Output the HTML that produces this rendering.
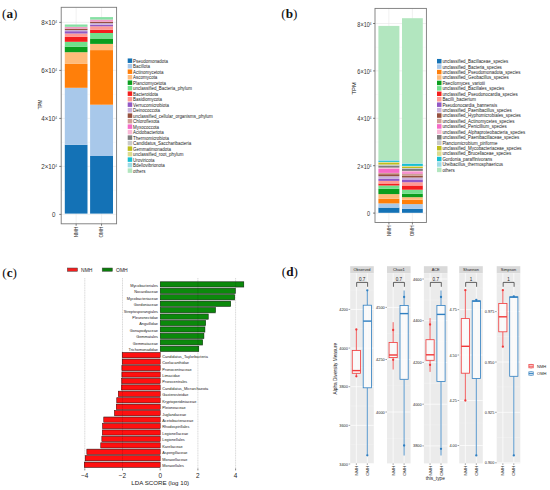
<!DOCTYPE html>
<html><head><meta charset="utf-8"><style>
html,body{margin:0;padding:0;background:#fff;width:550px;height:490px;overflow:hidden}
svg{display:block;font-family:'Liberation Sans',sans-serif}
</style></head><body>
<svg width="550" height="490" viewBox="0 0 550 490" font-family="Liberation Sans, sans-serif">
<text x="2.1" y="17.6" style="font-family:'Liberation Serif',serif;font-weight:bold" font-size="13.2" fill="#111"><tspan style="font-weight:normal">(</tspan>a<tspan style="font-weight:normal">)</tspan></text>
<text x="281.3" y="17.6" style="font-family:'Liberation Serif',serif;font-weight:bold" font-size="13.2" fill="#111"><tspan style="font-weight:normal">(</tspan>b<tspan style="font-weight:normal">)</tspan></text>
<text x="2.3" y="276.5" style="font-family:'Liberation Serif',serif;font-weight:bold" font-size="13.2" fill="#111"><tspan style="font-weight:normal">(</tspan>c<tspan style="font-weight:normal">)</tspan></text>
<text x="281.8" y="276.1" style="font-family:'Liberation Serif',serif;font-weight:bold" font-size="13.2" fill="#111"><tspan style="font-weight:normal">(</tspan>d<tspan style="font-weight:normal">)</tspan></text>
<rect x="61.20" y="7.30" width="55.40" height="216.50" fill="#ffffff" />
<line x1="61.2" x2="116.6" y1="46.40" y2="46.40" stroke="#f2f2f2" stroke-width="0.4"/>
<line x1="61.2" x2="116.6" y1="94.40" y2="94.40" stroke="#f2f2f2" stroke-width="0.4"/>
<line x1="61.2" x2="116.6" y1="142.40" y2="142.40" stroke="#f2f2f2" stroke-width="0.4"/>
<line x1="61.2" x2="116.6" y1="190.40" y2="190.40" stroke="#f2f2f2" stroke-width="0.4"/>
<line x1="61.2" x2="116.6" y1="22.40" y2="22.40" stroke="#e6e6e6" stroke-width="0.6"/>
<line x1="61.2" x2="116.6" y1="70.40" y2="70.40" stroke="#e6e6e6" stroke-width="0.6"/>
<line x1="61.2" x2="116.6" y1="118.40" y2="118.40" stroke="#e6e6e6" stroke-width="0.6"/>
<line x1="61.2" x2="116.6" y1="166.40" y2="166.40" stroke="#e6e6e6" stroke-width="0.6"/>
<line x1="61.2" x2="116.6" y1="214.40" y2="214.40" stroke="#e6e6e6" stroke-width="0.6"/>
<line x1="76.15" x2="76.15" y1="7.3" y2="223.8" stroke="#e6e6e6" stroke-width="0.6"/>
<line x1="101.55" x2="101.55" y1="7.3" y2="223.8" stroke="#e6e6e6" stroke-width="0.6"/>
<rect x="64.80" y="144.80" width="22.70" height="68.80" fill="#1472b6" />
<rect x="64.80" y="87.80" width="22.70" height="57.00" fill="#a8c8ea" />
<rect x="64.80" y="63.90" width="22.70" height="23.90" fill="#ff7f0a" />
<rect x="64.80" y="52.20" width="22.70" height="11.70" fill="#ffbb7a" />
<rect x="64.80" y="46.70" width="22.70" height="5.50" fill="#0a9e1e" />
<rect x="64.80" y="41.80" width="22.70" height="4.90" fill="#70e08c" />
<rect x="64.80" y="36.90" width="22.70" height="4.90" fill="#f41e1e" />
<rect x="64.80" y="33.50" width="22.70" height="3.40" fill="#ff9a94" />
<rect x="64.80" y="31.20" width="22.70" height="2.30" fill="#9258c4" />
<rect x="64.80" y="30.10" width="22.70" height="1.10" fill="#c9b2dc" />
<rect x="64.80" y="28.70" width="22.70" height="1.40" fill="#95503f" />
<rect x="64.80" y="26.80" width="22.70" height="1.90" fill="#f39bc6" />
<rect x="64.80" y="24.50" width="22.70" height="2.30" fill="#86e0a4" />
<rect x="90.10" y="156.00" width="22.90" height="57.60" fill="#1472b6" />
<rect x="90.10" y="104.70" width="22.90" height="51.30" fill="#a8c8ea" />
<rect x="90.10" y="50.10" width="22.90" height="54.60" fill="#ff7f0a" />
<rect x="90.10" y="43.90" width="22.90" height="6.20" fill="#ffbb7a" />
<rect x="90.10" y="38.50" width="22.90" height="5.40" fill="#0a9e1e" />
<rect x="90.10" y="33.00" width="22.90" height="5.50" fill="#70e08c" />
<rect x="90.10" y="29.70" width="22.90" height="3.30" fill="#f41e1e" />
<rect x="90.10" y="26.30" width="22.90" height="3.40" fill="#ff9a94" />
<rect x="90.10" y="24.70" width="22.90" height="1.60" fill="#9258c4" />
<rect x="90.10" y="23.10" width="22.90" height="1.60" fill="#c9b2dc" />
<rect x="90.10" y="21.80" width="22.90" height="1.30" fill="#95503f" />
<rect x="90.10" y="19.60" width="22.90" height="2.20" fill="#f39bc6" />
<rect x="90.10" y="17.10" width="22.90" height="2.50" fill="#86e0a4" />
<rect x="61.2" y="7.3" width="55.39999999999999" height="216.5" fill="none" stroke="#7a7a7a" stroke-width="0.9"/>
<line x1="59.2" x2="61.2" y1="22.40" y2="22.40" stroke="#333" stroke-width="0.6"/>
<text transform="translate(56.90,24.95) scale(0.9,1)" font-size="6.9" text-anchor="end" fill="#333">8×10<tspan dy="-2" font-size="3.4">4</tspan></text>
<line x1="59.2" x2="61.2" y1="70.40" y2="70.40" stroke="#333" stroke-width="0.6"/>
<text transform="translate(56.90,72.95) scale(0.9,1)" font-size="6.9" text-anchor="end" fill="#333">6×10<tspan dy="-2" font-size="3.4">4</tspan></text>
<line x1="59.2" x2="61.2" y1="118.40" y2="118.40" stroke="#333" stroke-width="0.6"/>
<text transform="translate(56.90,120.95) scale(0.9,1)" font-size="6.9" text-anchor="end" fill="#333">4×10<tspan dy="-2" font-size="3.4">4</tspan></text>
<line x1="59.2" x2="61.2" y1="166.40" y2="166.40" stroke="#333" stroke-width="0.6"/>
<text transform="translate(56.90,168.95) scale(0.9,1)" font-size="6.9" text-anchor="end" fill="#333">2×10<tspan dy="-2" font-size="3.4">4</tspan></text>
<line x1="59.2" x2="61.2" y1="214.40" y2="214.40" stroke="#333" stroke-width="0.6"/>
<text transform="translate(55.50,216.95) scale(0.9,1)" font-size="6.9" text-anchor="end" fill="#333">0</text>
<line x1="76.15" x2="76.15" y1="223.8" y2="225.8" stroke="#333" stroke-width="0.6"/>
<text transform="translate(77.75,226.8) rotate(-90)" font-size="4.6" text-anchor="end" fill="#333">NMH</text>
<line x1="101.55" x2="101.55" y1="223.8" y2="225.8" stroke="#333" stroke-width="0.6"/>
<text transform="translate(103.15,226.8) rotate(-90)" font-size="4.6" text-anchor="end" fill="#333">OMH</text>
<text transform="translate(41.90,104.60) rotate(-90)" font-size="4.5" text-anchor="middle" fill="#111">TPM</text>
<rect x="127.70" y="58.45" width="4.50" height="4.50" fill="#1472b6" />
<text x="133.1" y="62.6092" font-size="4.47" text-anchor="start" fill="#1a1a1a" >Pseudomonadota</text>
<rect x="127.70" y="63.95" width="4.50" height="4.50" fill="#a8c8ea" />
<text x="133.1" y="68.1042" font-size="4.47" text-anchor="start" fill="#1a1a1a" >Bacillota</text>
<rect x="127.70" y="69.44" width="4.50" height="4.50" fill="#ff7f0a" />
<text x="133.1" y="73.5992" font-size="4.47" text-anchor="start" fill="#1a1a1a" >Actinomycetota</text>
<rect x="127.70" y="74.94" width="4.50" height="4.50" fill="#ffbb7a" />
<text x="133.1" y="79.0942" font-size="4.47" text-anchor="start" fill="#1a1a1a" >Ascomycota</text>
<rect x="127.70" y="80.43" width="4.50" height="4.50" fill="#0a9e1e" />
<text x="133.1" y="84.5892" font-size="4.47" text-anchor="start" fill="#1a1a1a" >Planctomycetota</text>
<rect x="127.70" y="85.93" width="4.50" height="4.50" fill="#70e08c" />
<text x="133.1" y="90.08420000000001" font-size="4.47" text-anchor="start" fill="#1a1a1a" >unclassified_Bacteria_phylum</text>
<rect x="127.70" y="91.42" width="4.50" height="4.50" fill="#f41e1e" />
<text x="133.1" y="95.5792" font-size="4.47" text-anchor="start" fill="#1a1a1a" >Bacteroidota</text>
<rect x="127.70" y="96.92" width="4.50" height="4.50" fill="#ff9a94" />
<text x="133.1" y="101.0742" font-size="4.47" text-anchor="start" fill="#1a1a1a" >Basidiomycota</text>
<rect x="127.70" y="102.41" width="4.50" height="4.50" fill="#9258c4" />
<text x="133.1" y="106.5692" font-size="4.47" text-anchor="start" fill="#1a1a1a" >Verrucomicrobiota</text>
<rect x="127.70" y="107.91" width="4.50" height="4.50" fill="#c9b2dc" />
<text x="133.1" y="112.0642" font-size="4.47" text-anchor="start" fill="#1a1a1a" >Deinococcota</text>
<rect x="127.70" y="113.40" width="4.50" height="4.50" fill="#95503f" />
<text x="133.1" y="117.5592" font-size="4.47" text-anchor="start" fill="#1a1a1a" >unclassified_cellular_organisms_phylum</text>
<rect x="127.70" y="118.90" width="4.50" height="4.50" fill="#cf9f96" />
<text x="133.1" y="123.05420000000001" font-size="4.47" text-anchor="start" fill="#1a1a1a" >Chloroflexota</text>
<rect x="127.70" y="124.39" width="4.50" height="4.50" fill="#f56ac6" />
<text x="133.1" y="128.5492" font-size="4.47" text-anchor="start" fill="#1a1a1a" >Myxococcota</text>
<rect x="127.70" y="129.88" width="4.50" height="4.50" fill="#f9b8d6" />
<text x="133.1" y="134.0442" font-size="4.47" text-anchor="start" fill="#1a1a1a" >Acidobacteriota</text>
<rect x="127.70" y="135.38" width="4.50" height="4.50" fill="#7d7d7d" />
<text x="133.1" y="139.5392" font-size="4.47" text-anchor="start" fill="#1a1a1a" >Thermomicrobiota</text>
<rect x="127.70" y="140.88" width="4.50" height="4.50" fill="#c9c9c9" />
<text x="133.1" y="145.0342" font-size="4.47" text-anchor="start" fill="#1a1a1a" >Candidatus_Saccharibacteria</text>
<rect x="127.70" y="146.37" width="4.50" height="4.50" fill="#bebe1e" />
<text x="133.1" y="150.5292" font-size="4.47" text-anchor="start" fill="#1a1a1a" >Gemmatimonadota</text>
<rect x="127.70" y="151.87" width="4.50" height="4.50" fill="#dcdb8e" />
<text x="133.1" y="156.0242" font-size="4.47" text-anchor="start" fill="#1a1a1a" >unclassified_root_phylum</text>
<rect x="127.70" y="157.36" width="4.50" height="4.50" fill="#18bfd2" />
<text x="133.1" y="161.5192" font-size="4.47" text-anchor="start" fill="#1a1a1a" >Uroviricota</text>
<rect x="127.70" y="162.86" width="4.50" height="4.50" fill="#9ddbe6" />
<text x="133.1" y="167.01420000000002" font-size="4.47" text-anchor="start" fill="#1a1a1a" >Bdellovibrionota</text>
<rect x="127.70" y="168.35" width="4.50" height="4.50" fill="#b2e6bf" />
<text x="133.1" y="172.50920000000002" font-size="4.47" text-anchor="start" fill="#1a1a1a" >others</text>
<rect x="375.00" y="8.40" width="51.40" height="214.10" fill="#ffffff" />
<line x1="375.0" x2="426.4" y1="47.20" y2="47.20" stroke="#f2f2f2" stroke-width="0.4"/>
<line x1="375.0" x2="426.4" y1="94.60" y2="94.60" stroke="#f2f2f2" stroke-width="0.4"/>
<line x1="375.0" x2="426.4" y1="142.00" y2="142.00" stroke="#f2f2f2" stroke-width="0.4"/>
<line x1="375.0" x2="426.4" y1="189.40" y2="189.40" stroke="#f2f2f2" stroke-width="0.4"/>
<line x1="375.0" x2="426.4" y1="23.50" y2="23.50" stroke="#e6e6e6" stroke-width="0.6"/>
<line x1="375.0" x2="426.4" y1="70.90" y2="70.90" stroke="#e6e6e6" stroke-width="0.6"/>
<line x1="375.0" x2="426.4" y1="118.30" y2="118.30" stroke="#e6e6e6" stroke-width="0.6"/>
<line x1="375.0" x2="426.4" y1="165.70" y2="165.70" stroke="#e6e6e6" stroke-width="0.6"/>
<line x1="375.0" x2="426.4" y1="213.10" y2="213.10" stroke="#e6e6e6" stroke-width="0.6"/>
<line x1="388.90" x2="388.90" y1="8.4" y2="222.5" stroke="#e6e6e6" stroke-width="0.6"/>
<line x1="412.40" x2="412.40" y1="8.4" y2="222.5" stroke="#e6e6e6" stroke-width="0.6"/>
<rect x="378.40" y="207.60" width="21.00" height="5.20" fill="#1472b6" />
<rect x="378.40" y="203.40" width="21.00" height="4.20" fill="#a8c8ea" />
<rect x="378.40" y="198.80" width="21.00" height="4.60" fill="#ff7f0a" />
<rect x="378.40" y="194.10" width="21.00" height="4.70" fill="#ffbb7a" />
<rect x="378.40" y="188.80" width="21.00" height="5.30" fill="#0a9e1e" />
<rect x="378.40" y="185.50" width="21.00" height="3.30" fill="#70e08c" />
<rect x="378.40" y="183.50" width="21.00" height="2.00" fill="#f41e1e" />
<rect x="378.40" y="180.90" width="21.00" height="2.60" fill="#ff9a94" />
<rect x="378.40" y="178.90" width="21.00" height="2.00" fill="#9258c4" />
<rect x="378.40" y="176.20" width="21.00" height="2.70" fill="#c9b2dc" />
<rect x="378.40" y="174.20" width="21.00" height="2.00" fill="#95503f" />
<rect x="378.40" y="172.90" width="21.00" height="1.30" fill="#cf9f96" />
<rect x="378.40" y="168.90" width="21.00" height="4.00" fill="#f56ac6" />
<rect x="378.40" y="167.60" width="21.00" height="1.30" fill="#f9b8d6" />
<rect x="378.40" y="165.60" width="21.00" height="2.00" fill="#7d7d7d" />
<rect x="378.40" y="164.50" width="21.00" height="1.10" fill="#c9c9c9" />
<rect x="378.40" y="162.70" width="21.00" height="1.80" fill="#bebe1e" />
<rect x="378.40" y="161.90" width="21.00" height="0.80" fill="#dcdb8e" />
<rect x="378.40" y="161.00" width="21.00" height="0.90" fill="#18bfd2" />
<rect x="378.40" y="160.00" width="21.00" height="1.00" fill="#9ddbe6" />
<rect x="378.40" y="25.90" width="21.00" height="134.10" fill="#b2e6bf" />
<rect x="402.00" y="208.70" width="20.80" height="4.10" fill="#1472b6" />
<rect x="402.00" y="204.10" width="20.80" height="4.60" fill="#a8c8ea" />
<rect x="402.00" y="199.80" width="20.80" height="4.30" fill="#ff7f0a" />
<rect x="402.00" y="197.20" width="20.80" height="2.60" fill="#ffbb7a" />
<rect x="402.00" y="193.70" width="20.80" height="3.50" fill="#0a9e1e" />
<rect x="402.00" y="189.70" width="20.80" height="4.00" fill="#70e08c" />
<rect x="402.00" y="185.50" width="20.80" height="4.20" fill="#f41e1e" />
<rect x="402.00" y="182.20" width="20.80" height="3.30" fill="#ff9a94" />
<rect x="402.00" y="179.50" width="20.80" height="2.70" fill="#9258c4" />
<rect x="402.00" y="177.50" width="20.80" height="2.00" fill="#c9b2dc" />
<rect x="402.00" y="175.60" width="20.80" height="1.90" fill="#95503f" />
<rect x="402.00" y="173.60" width="20.80" height="2.00" fill="#cf9f96" />
<rect x="402.00" y="172.20" width="20.80" height="1.40" fill="#f56ac6" />
<rect x="402.00" y="170.90" width="20.80" height="1.30" fill="#f9b8d6" />
<rect x="402.00" y="168.90" width="20.80" height="2.00" fill="#7d7d7d" />
<rect x="402.00" y="168.00" width="20.80" height="0.90" fill="#c9c9c9" />
<rect x="402.00" y="166.90" width="20.80" height="1.10" fill="#bebe1e" />
<rect x="402.00" y="165.90" width="20.80" height="1.00" fill="#dcdb8e" />
<rect x="402.00" y="164.00" width="20.80" height="1.90" fill="#18bfd2" />
<rect x="402.00" y="163.20" width="20.80" height="0.80" fill="#9ddbe6" />
<rect x="402.00" y="18.20" width="20.80" height="145.00" fill="#b2e6bf" />
<rect x="375.0" y="8.4" width="51.39999999999998" height="214.1" fill="none" stroke="#7a7a7a" stroke-width="0.9"/>
<line x1="373.0" x2="375.0" y1="23.50" y2="23.50" stroke="#333" stroke-width="0.6"/>
<text transform="translate(371.50,26.50) scale(0.88,1)" font-size="6.3" text-anchor="end" fill="#333">8×10<tspan dy="-2" font-size="3.4">4</tspan></text>
<line x1="373.0" x2="375.0" y1="70.90" y2="70.90" stroke="#333" stroke-width="0.6"/>
<text transform="translate(371.50,73.90) scale(0.88,1)" font-size="6.3" text-anchor="end" fill="#333">6×10<tspan dy="-2" font-size="3.4">4</tspan></text>
<line x1="373.0" x2="375.0" y1="118.30" y2="118.30" stroke="#333" stroke-width="0.6"/>
<text transform="translate(371.50,121.30) scale(0.88,1)" font-size="6.3" text-anchor="end" fill="#333">4×10<tspan dy="-2" font-size="3.4">4</tspan></text>
<line x1="373.0" x2="375.0" y1="165.70" y2="165.70" stroke="#333" stroke-width="0.6"/>
<text transform="translate(371.50,168.70) scale(0.88,1)" font-size="6.3" text-anchor="end" fill="#333">2×10<tspan dy="-2" font-size="3.4">4</tspan></text>
<line x1="373.0" x2="375.0" y1="213.10" y2="213.10" stroke="#333" stroke-width="0.6"/>
<text transform="translate(370.10,216.10) scale(0.88,1)" font-size="6.3" text-anchor="end" fill="#333">0</text>
<line x1="388.90" x2="388.90" y1="222.5" y2="224.5" stroke="#333" stroke-width="0.6"/>
<text transform="translate(390.50,225.5) rotate(-90)" font-size="4.6" text-anchor="end" fill="#333">NMH</text>
<line x1="412.40" x2="412.40" y1="222.5" y2="224.5" stroke="#333" stroke-width="0.6"/>
<text transform="translate(414.00,225.5) rotate(-90)" font-size="4.6" text-anchor="end" fill="#333">OMH</text>
<text transform="translate(356.20,88.40) rotate(-90)" font-size="5.8" text-anchor="middle" fill="#111">TPM</text>
<rect x="437.00" y="58.95" width="4.50" height="4.50" fill="#1472b6" />
<text x="442.4" y="63.0984" font-size="4.44" text-anchor="start" fill="#1a1a1a" >unclassified_Bacillaceae_species</text>
<rect x="437.00" y="64.39" width="4.50" height="4.50" fill="#a8c8ea" />
<text x="442.4" y="68.5334" font-size="4.44" text-anchor="start" fill="#1a1a1a" >unclassified_Bacteria_species</text>
<rect x="437.00" y="69.82" width="4.50" height="4.50" fill="#ff7f0a" />
<text x="442.4" y="73.9684" font-size="4.44" text-anchor="start" fill="#1a1a1a" >unclassified_Pseudomonadota_species</text>
<rect x="437.00" y="75.25" width="4.50" height="4.50" fill="#ffbb7a" />
<text x="442.4" y="79.40339999999999" font-size="4.44" text-anchor="start" fill="#1a1a1a" >unclassified_Geobacillus_species</text>
<rect x="437.00" y="80.69" width="4.50" height="4.50" fill="#0a9e1e" />
<text x="442.4" y="84.8384" font-size="4.44" text-anchor="start" fill="#1a1a1a" >Paecilomyces_variotii</text>
<rect x="437.00" y="86.12" width="4.50" height="4.50" fill="#70e08c" />
<text x="442.4" y="90.2734" font-size="4.44" text-anchor="start" fill="#1a1a1a" >unclassified_Bacillales_species</text>
<rect x="437.00" y="91.56" width="4.50" height="4.50" fill="#f41e1e" />
<text x="442.4" y="95.7084" font-size="4.44" text-anchor="start" fill="#1a1a1a" >unclassified_Pseudonocardia_species</text>
<rect x="437.00" y="97.00" width="4.50" height="4.50" fill="#ff9a94" />
<text x="442.4" y="101.1434" font-size="4.44" text-anchor="start" fill="#1a1a1a" >Bacilli_bacterium</text>
<rect x="437.00" y="102.43" width="4.50" height="4.50" fill="#9258c4" />
<text x="442.4" y="106.5784" font-size="4.44" text-anchor="start" fill="#1a1a1a" >Pseudonocardia_bannensis</text>
<rect x="437.00" y="107.87" width="4.50" height="4.50" fill="#c9b2dc" />
<text x="442.4" y="112.0134" font-size="4.44" text-anchor="start" fill="#1a1a1a" >unclassified_Paenibacillus_species</text>
<rect x="437.00" y="113.30" width="4.50" height="4.50" fill="#95503f" />
<text x="442.4" y="117.44839999999999" font-size="4.44" text-anchor="start" fill="#1a1a1a" >unclassified_Hyphomicrobiales_species</text>
<rect x="437.00" y="118.73" width="4.50" height="4.50" fill="#cf9f96" />
<text x="442.4" y="122.8834" font-size="4.44" text-anchor="start" fill="#1a1a1a" >unclassified_Actinomycetes_species</text>
<rect x="437.00" y="124.17" width="4.50" height="4.50" fill="#f56ac6" />
<text x="442.4" y="128.31840000000003" font-size="4.44" text-anchor="start" fill="#1a1a1a" >unclassified_Penicillium_species</text>
<rect x="437.00" y="129.61" width="4.50" height="4.50" fill="#f9b8d6" />
<text x="442.4" y="133.75340000000003" font-size="4.44" text-anchor="start" fill="#1a1a1a" >unclassified_Alphaproteobacteria_species</text>
<rect x="437.00" y="135.04" width="4.50" height="4.50" fill="#7d7d7d" />
<text x="442.4" y="139.1884" font-size="4.44" text-anchor="start" fill="#1a1a1a" >unclassified_Paenibacillaceae_species</text>
<rect x="437.00" y="140.47" width="4.50" height="4.50" fill="#c9c9c9" />
<text x="442.4" y="144.6234" font-size="4.44" text-anchor="start" fill="#1a1a1a" >Planctomicrobium_piriforme</text>
<rect x="437.00" y="145.91" width="4.50" height="4.50" fill="#bebe1e" />
<text x="442.4" y="150.0584" font-size="4.44" text-anchor="start" fill="#1a1a1a" >unclassified_Mycobacteriaceae_species</text>
<rect x="437.00" y="151.34" width="4.50" height="4.50" fill="#dcdb8e" />
<text x="442.4" y="155.4934" font-size="4.44" text-anchor="start" fill="#1a1a1a" >unclassified_Brucellaceae_species</text>
<rect x="437.00" y="156.78" width="4.50" height="4.50" fill="#18bfd2" />
<text x="442.4" y="160.9284" font-size="4.44" text-anchor="start" fill="#1a1a1a" >Gordonia_paraffinivorans</text>
<rect x="437.00" y="162.21" width="4.50" height="4.50" fill="#9ddbe6" />
<text x="442.4" y="166.36339999999998" font-size="4.44" text-anchor="start" fill="#1a1a1a" >Ureibacillus_thermosphaericus</text>
<rect x="437.00" y="167.65" width="4.50" height="4.50" fill="#b2e6bf" />
<text x="442.4" y="171.7984" font-size="4.44" text-anchor="start" fill="#1a1a1a" >others</text>
<rect x="67.3" y="268" width="10.2" height="3.3" fill="#f41e1e" stroke="#444" stroke-width="0.5"/>
<text x="81.1" y="271.9" font-size="5.0" text-anchor="start" fill="#222" >NMH</text>
<rect x="102.2" y="268" width="10.2" height="3.3" fill="#0a7d0a" stroke="#444" stroke-width="0.5"/>
<text x="116.0" y="271.9" font-size="5.0" text-anchor="start" fill="#222" >OMH</text>
<rect x="160.20" y="281.20" width="83.90" height="6.44" fill="#a4a4a4"/>
<rect x="160.20" y="281.90" width="83.60" height="5.0" fill="#0b890b" stroke="#0a300a" stroke-width="0.45"/>
<text x="158.0" y="286.79999999999995" font-size="3.85" text-anchor="end" fill="#222" >Mycobacteriales</text>
<rect x="160.20" y="287.64" width="75.40" height="6.44" fill="#a4a4a4"/>
<rect x="160.20" y="288.34" width="75.10" height="5.0" fill="#0b890b" stroke="#0a300a" stroke-width="0.45"/>
<text x="158.0" y="293.23999999999995" font-size="3.85" text-anchor="end" fill="#222" >Nocardiaceae</text>
<rect x="160.20" y="294.08" width="74.80" height="6.44" fill="#a4a4a4"/>
<rect x="160.20" y="294.78" width="74.50" height="5.0" fill="#0b890b" stroke="#0a300a" stroke-width="0.45"/>
<text x="158.0" y="299.67999999999995" font-size="3.85" text-anchor="end" fill="#222" >Mycobacteriaceae</text>
<rect x="160.20" y="300.52" width="70.80" height="6.44" fill="#a4a4a4"/>
<rect x="160.20" y="301.22" width="70.50" height="5.0" fill="#0b890b" stroke="#0a300a" stroke-width="0.45"/>
<text x="158.0" y="306.11999999999995" font-size="3.85" text-anchor="end" fill="#222" >Gordoniaceae</text>
<rect x="160.20" y="306.96" width="55.60" height="6.44" fill="#a4a4a4"/>
<rect x="160.20" y="307.66" width="55.30" height="5.0" fill="#0b890b" stroke="#0a300a" stroke-width="0.45"/>
<text x="158.0" y="312.55999999999995" font-size="3.85" text-anchor="end" fill="#222" >Streptosporangiales</text>
<rect x="160.20" y="313.40" width="48.30" height="6.44" fill="#a4a4a4"/>
<rect x="160.20" y="314.10" width="48.00" height="5.0" fill="#0b890b" stroke="#0a300a" stroke-width="0.45"/>
<text x="158.0" y="318.99999999999994" font-size="3.85" text-anchor="end" fill="#222" >Pleuronectidae</text>
<rect x="160.20" y="319.84" width="45.70" height="6.44" fill="#a4a4a4"/>
<rect x="160.20" y="320.54" width="45.40" height="5.0" fill="#0b890b" stroke="#0a300a" stroke-width="0.45"/>
<text x="158.0" y="325.43999999999994" font-size="3.85" text-anchor="end" fill="#222" >Anguillidae</text>
<rect x="160.20" y="326.28" width="45.00" height="6.44" fill="#a4a4a4"/>
<rect x="160.20" y="326.98" width="44.70" height="5.0" fill="#0b890b" stroke="#0a300a" stroke-width="0.45"/>
<text x="158.0" y="331.87999999999994" font-size="3.85" text-anchor="end" fill="#222" >Gonapodyaceae</text>
<rect x="160.20" y="332.72" width="44.00" height="6.44" fill="#a4a4a4"/>
<rect x="160.20" y="333.42" width="43.70" height="5.0" fill="#0b890b" stroke="#0a300a" stroke-width="0.45"/>
<text x="158.0" y="338.31999999999994" font-size="3.85" text-anchor="end" fill="#222" >Gemmatales</text>
<rect x="160.20" y="339.16" width="42.70" height="6.44" fill="#a4a4a4"/>
<rect x="160.20" y="339.86" width="42.40" height="5.0" fill="#0b890b" stroke="#0a300a" stroke-width="0.45"/>
<text x="158.0" y="344.75999999999993" font-size="3.85" text-anchor="end" fill="#222" >Gemmataceae</text>
<rect x="160.20" y="345.60" width="38.90" height="6.44" fill="#a4a4a4"/>
<rect x="160.20" y="346.30" width="38.60" height="5.0" fill="#0b890b" stroke="#0a300a" stroke-width="0.45"/>
<text x="158.0" y="351.19999999999993" font-size="3.85" text-anchor="end" fill="#222" >Trichomonadidae</text>
<rect x="121.90" y="352.04" width="38.30" height="6.44" fill="#a4a4a4"/>
<rect x="122.20" y="352.74" width="38.00" height="5.0" fill="#ff1010" stroke="#500" stroke-width="0.45"/>
<text x="162.3" y="357.64" font-size="3.85" text-anchor="start" fill="#222" >Candidatus_Taylorbacteria</text>
<rect x="121.90" y="358.48" width="38.30" height="6.44" fill="#a4a4a4"/>
<rect x="122.20" y="359.18" width="38.00" height="5.0" fill="#ff1010" stroke="#500" stroke-width="0.45"/>
<text x="162.3" y="364.0799999999999" font-size="3.85" text-anchor="start" fill="#222" >Coelacanthidae</text>
<rect x="121.60" y="364.92" width="38.60" height="6.44" fill="#a4a4a4"/>
<rect x="121.90" y="365.62" width="38.30" height="5.0" fill="#ff1010" stroke="#500" stroke-width="0.45"/>
<text x="162.3" y="370.52" font-size="3.85" text-anchor="start" fill="#222" >Pronocentraceae</text>
<rect x="121.60" y="371.36" width="38.60" height="6.44" fill="#a4a4a4"/>
<rect x="121.90" y="372.06" width="38.30" height="5.0" fill="#ff1010" stroke="#500" stroke-width="0.45"/>
<text x="162.3" y="376.96" font-size="3.85" text-anchor="start" fill="#222" >Limacidae</text>
<rect x="121.40" y="377.80" width="38.80" height="6.44" fill="#a4a4a4"/>
<rect x="121.70" y="378.50" width="38.50" height="5.0" fill="#ff1010" stroke="#500" stroke-width="0.45"/>
<text x="162.3" y="383.4" font-size="3.85" text-anchor="start" fill="#222" >Prorocentrales</text>
<rect x="121.10" y="384.24" width="39.10" height="6.44" fill="#a4a4a4"/>
<rect x="121.40" y="384.94" width="38.80" height="5.0" fill="#ff1010" stroke="#500" stroke-width="0.45"/>
<text x="162.3" y="389.84" font-size="3.85" text-anchor="start" fill="#222" >Candidatus_Micrarchaeota</text>
<rect x="118.00" y="390.68" width="42.20" height="6.44" fill="#a4a4a4"/>
<rect x="118.30" y="391.38" width="41.90" height="5.0" fill="#ff1010" stroke="#500" stroke-width="0.45"/>
<text x="162.3" y="396.28" font-size="3.85" text-anchor="start" fill="#222" >Gasterosteidae</text>
<rect x="116.50" y="397.12" width="43.70" height="6.44" fill="#a4a4a4"/>
<rect x="116.80" y="397.82" width="43.40" height="5.0" fill="#ff1010" stroke="#500" stroke-width="0.45"/>
<text x="162.3" y="402.71999999999997" font-size="3.85" text-anchor="start" fill="#222" >Kryptoperidiniaceae</text>
<rect x="116.00" y="403.56" width="44.20" height="6.44" fill="#a4a4a4"/>
<rect x="116.30" y="404.26" width="43.90" height="5.0" fill="#ff1010" stroke="#500" stroke-width="0.45"/>
<text x="162.3" y="409.15999999999997" font-size="3.85" text-anchor="start" fill="#222" >Pleioneaceae</text>
<rect x="114.20" y="410.00" width="46.00" height="6.44" fill="#a4a4a4"/>
<rect x="114.50" y="410.70" width="45.70" height="5.0" fill="#ff1010" stroke="#500" stroke-width="0.45"/>
<text x="162.3" y="415.59999999999997" font-size="3.85" text-anchor="start" fill="#222" >Juglandaceae</text>
<rect x="103.50" y="416.44" width="56.70" height="6.44" fill="#a4a4a4"/>
<rect x="103.80" y="417.14" width="56.40" height="5.0" fill="#ff1010" stroke="#500" stroke-width="0.45"/>
<text x="162.3" y="422.03999999999996" font-size="3.85" text-anchor="start" fill="#222" >Acetobacteraceae</text>
<rect x="102.30" y="422.88" width="57.90" height="6.44" fill="#a4a4a4"/>
<rect x="102.60" y="423.58" width="57.60" height="5.0" fill="#ff1010" stroke="#500" stroke-width="0.45"/>
<text x="162.3" y="428.47999999999996" font-size="3.85" text-anchor="start" fill="#222" >Rhodospirillales</text>
<rect x="102.10" y="429.32" width="58.10" height="6.44" fill="#a4a4a4"/>
<rect x="102.40" y="430.02" width="57.80" height="5.0" fill="#ff1010" stroke="#500" stroke-width="0.45"/>
<text x="162.3" y="434.91999999999996" font-size="3.85" text-anchor="start" fill="#222" >Legionellaceae</text>
<rect x="101.60" y="435.76" width="58.60" height="6.44" fill="#a4a4a4"/>
<rect x="101.90" y="436.46" width="58.30" height="5.0" fill="#ff1010" stroke="#500" stroke-width="0.45"/>
<text x="162.3" y="441.35999999999996" font-size="3.85" text-anchor="start" fill="#222" >Legionellales</text>
<rect x="100.50" y="442.20" width="59.70" height="6.44" fill="#a4a4a4"/>
<rect x="100.80" y="442.90" width="59.40" height="5.0" fill="#ff1010" stroke="#500" stroke-width="0.45"/>
<text x="162.3" y="447.79999999999995" font-size="3.85" text-anchor="start" fill="#222" >Kareliaceae</text>
<rect x="86.60" y="448.64" width="73.60" height="6.44" fill="#a4a4a4"/>
<rect x="86.90" y="449.34" width="73.30" height="5.0" fill="#ff1010" stroke="#500" stroke-width="0.45"/>
<text x="162.3" y="454.23999999999995" font-size="3.85" text-anchor="start" fill="#222" >Aspergillaceae</text>
<rect x="84.90" y="455.08" width="75.30" height="6.44" fill="#a4a4a4"/>
<rect x="85.20" y="455.78" width="75.00" height="5.0" fill="#ff1010" stroke="#500" stroke-width="0.45"/>
<text x="162.3" y="460.67999999999995" font-size="3.85" text-anchor="start" fill="#222" >Moraxellaceae</text>
<rect x="84.00" y="461.52" width="76.20" height="6.44" fill="#a4a4a4"/>
<rect x="84.30" y="462.22" width="75.90" height="5.0" fill="#ff1010" stroke="#500" stroke-width="0.45"/>
<text x="162.3" y="467.12" font-size="3.85" text-anchor="start" fill="#222" >Moraxellales</text>
<line x1="84.80" x2="84.80" y1="278" y2="468" stroke="#000" stroke-opacity="0.3" stroke-width="0.5" stroke-dasharray="1.2,0.5"/>
<line x1="122.50" x2="122.50" y1="278" y2="468" stroke="#000" stroke-opacity="0.3" stroke-width="0.5" stroke-dasharray="1.2,0.5"/>
<line x1="197.90" x2="197.90" y1="278" y2="468" stroke="#000" stroke-opacity="0.3" stroke-width="0.5" stroke-dasharray="1.2,0.5"/>
<line x1="235.60" x2="235.60" y1="278" y2="468" stroke="#000" stroke-opacity="0.3" stroke-width="0.5" stroke-dasharray="1.2,0.5"/>
<line x1="84.80" x2="84.80" y1="468.4" y2="470.4" stroke="#333" stroke-width="0.6"/>
<text x="84.80" y="477.8" font-size="6.4" text-anchor="middle" fill="#222" >−4</text>
<line x1="122.50" x2="122.50" y1="468.4" y2="470.4" stroke="#333" stroke-width="0.6"/>
<text x="122.50" y="477.8" font-size="6.4" text-anchor="middle" fill="#222" >−2</text>
<line x1="160.20" x2="160.20" y1="468.4" y2="470.4" stroke="#333" stroke-width="0.6"/>
<text x="160.20" y="477.8" font-size="6.4" text-anchor="middle" fill="#222" >0</text>
<line x1="197.90" x2="197.90" y1="468.4" y2="470.4" stroke="#333" stroke-width="0.6"/>
<text x="197.90" y="477.8" font-size="6.4" text-anchor="middle" fill="#222" >2</text>
<line x1="235.60" x2="235.60" y1="468.4" y2="470.4" stroke="#333" stroke-width="0.6"/>
<text x="235.60" y="477.8" font-size="6.4" text-anchor="middle" fill="#222" >4</text>
<text x="160.2" y="485.4" font-size="6.17" text-anchor="middle" fill="#222" >LDA SCORE (log 10)</text>
<rect x="350.20" y="266.20" width="23.60" height="7.00" fill="#d9d9d9" />
<text x="362.00" y="271.2" font-size="3.95" text-anchor="middle" fill="#1a1a1a" >Observed</text>
<rect x="350.20" y="273.20" width="23.60" height="190.20" fill="#ebebeb" />
<line x1="350.20" x2="373.80" y1="444.68" y2="444.68" stroke="#f7f7f7" stroke-width="0.35"/>
<line x1="350.20" x2="373.80" y1="406.03" y2="406.03" stroke="#f7f7f7" stroke-width="0.35"/>
<line x1="350.20" x2="373.80" y1="367.38" y2="367.38" stroke="#f7f7f7" stroke-width="0.35"/>
<line x1="350.20" x2="373.80" y1="328.73" y2="328.73" stroke="#f7f7f7" stroke-width="0.35"/>
<line x1="350.20" x2="373.80" y1="290.08" y2="290.08" stroke="#f7f7f7" stroke-width="0.35"/>
<line x1="350.20" x2="373.80" y1="464.00" y2="464.00" stroke="#ffffff" stroke-width="0.7"/>
<line x1="350.20" x2="373.80" y1="425.35" y2="425.35" stroke="#ffffff" stroke-width="0.7"/>
<line x1="350.20" x2="373.80" y1="386.70" y2="386.70" stroke="#ffffff" stroke-width="0.7"/>
<line x1="350.20" x2="373.80" y1="348.05" y2="348.05" stroke="#ffffff" stroke-width="0.7"/>
<line x1="350.20" x2="373.80" y1="309.40" y2="309.40" stroke="#ffffff" stroke-width="0.7"/>
<line x1="356.35" x2="356.35" y1="273.2" y2="463.4" stroke="#ffffff" stroke-width="0.7"/>
<line x1="367.30" x2="367.30" y1="273.2" y2="463.4" stroke="#ffffff" stroke-width="0.7"/>
<line x1="348.60" x2="350.20" y1="464.00" y2="464.00" stroke="#444" stroke-width="0.5"/>
<text transform="translate(347.90,465.50) scale(0.91,1)" font-size="4.25" text-anchor="end" fill="#222">3400</text>
<line x1="348.60" x2="350.20" y1="425.35" y2="425.35" stroke="#444" stroke-width="0.5"/>
<text transform="translate(347.90,426.85) scale(0.91,1)" font-size="4.25" text-anchor="end" fill="#222">3600</text>
<line x1="348.60" x2="350.20" y1="386.70" y2="386.70" stroke="#444" stroke-width="0.5"/>
<text transform="translate(347.90,388.20) scale(0.91,1)" font-size="4.25" text-anchor="end" fill="#222">3800</text>
<line x1="348.60" x2="350.20" y1="348.05" y2="348.05" stroke="#444" stroke-width="0.5"/>
<text transform="translate(347.90,349.55) scale(0.91,1)" font-size="4.25" text-anchor="end" fill="#222">4000</text>
<line x1="348.60" x2="350.20" y1="309.40" y2="309.40" stroke="#444" stroke-width="0.5"/>
<text transform="translate(347.90,310.90) scale(0.91,1)" font-size="4.25" text-anchor="end" fill="#222">4200</text>
<line x1="356.35" x2="356.35" y1="329.5" y2="350.5" stroke="#f0393a" stroke-width="0.8"/>
<line x1="356.35" x2="356.35" y1="373.3" y2="376.3" stroke="#f0393a" stroke-width="0.8"/>
<rect x="352.25" y="350.5" width="8.20" height="22.80" fill="#fbfbfb" fill-opacity="0.85" stroke="#f0393a" stroke-width="0.8"/>
<line x1="352.25" x2="360.45" y1="370.6" y2="370.6" stroke="#f0393a" stroke-width="1.4"/>
<circle cx="356.35" cy="329.5" r="1.15" fill="#f0393a"/>
<circle cx="356.35" cy="376.3" r="1.15" fill="#f0393a"/>
<line x1="367.30" x2="367.30" y1="290.3" y2="305.2" stroke="#2f7fc1" stroke-width="0.8"/>
<line x1="367.30" x2="367.30" y1="387.8" y2="455.3" stroke="#2f7fc1" stroke-width="0.8"/>
<rect x="363.20" y="305.2" width="8.20" height="82.60" fill="#fbfbfb" fill-opacity="0.85" stroke="#2f7fc1" stroke-width="0.8"/>
<line x1="363.20" x2="371.40" y1="321.1" y2="321.1" stroke="#2f7fc1" stroke-width="1.4"/>
<circle cx="367.30" cy="290.3" r="1.15" fill="#2f7fc1"/>
<circle cx="367.30" cy="455.3" r="1.15" fill="#2f7fc1"/>
<path d="M356.65,286.8 V282.4 H367.60 V286.8" fill="none" stroke="#222" stroke-width="0.7"/>
<text x="362.12" y="280.8" font-size="4.6" text-anchor="middle" fill="#222" >0.7</text>
<line x1="356.35" x2="356.35" y1="463.4" y2="464.9" stroke="#444" stroke-width="0.5"/>
<text transform="translate(357.85,465.7) rotate(-90)" font-size="4.3" text-anchor="end" fill="#333">NMH</text>
<line x1="367.30" x2="367.30" y1="463.4" y2="464.9" stroke="#444" stroke-width="0.5"/>
<text transform="translate(368.80,465.7) rotate(-90)" font-size="4.3" text-anchor="end" fill="#333">OMH</text>
<rect x="387.00" y="266.20" width="23.60" height="7.00" fill="#d9d9d9" />
<text x="398.80" y="271.2" font-size="3.95" text-anchor="middle" fill="#1a1a1a" >Chao1</text>
<rect x="387.00" y="273.20" width="23.60" height="190.20" fill="#ebebeb" />
<line x1="387.00" x2="410.60" y1="438.25" y2="438.25" stroke="#f7f7f7" stroke-width="0.35"/>
<line x1="387.00" x2="410.60" y1="385.75" y2="385.75" stroke="#f7f7f7" stroke-width="0.35"/>
<line x1="387.00" x2="410.60" y1="333.25" y2="333.25" stroke="#f7f7f7" stroke-width="0.35"/>
<line x1="387.00" x2="410.60" y1="280.75" y2="280.75" stroke="#f7f7f7" stroke-width="0.35"/>
<line x1="387.00" x2="410.60" y1="412.00" y2="412.00" stroke="#ffffff" stroke-width="0.7"/>
<line x1="387.00" x2="410.60" y1="359.50" y2="359.50" stroke="#ffffff" stroke-width="0.7"/>
<line x1="387.00" x2="410.60" y1="307.40" y2="307.40" stroke="#ffffff" stroke-width="0.7"/>
<line x1="393.15" x2="393.15" y1="273.2" y2="463.4" stroke="#ffffff" stroke-width="0.7"/>
<line x1="404.10" x2="404.10" y1="273.2" y2="463.4" stroke="#ffffff" stroke-width="0.7"/>
<line x1="385.40" x2="387.00" y1="412.00" y2="412.00" stroke="#444" stroke-width="0.5"/>
<text transform="translate(384.70,413.50) scale(0.91,1)" font-size="4.25" text-anchor="end" fill="#222">4000</text>
<line x1="385.40" x2="387.00" y1="359.50" y2="359.50" stroke="#444" stroke-width="0.5"/>
<text transform="translate(384.70,361.00) scale(0.91,1)" font-size="4.25" text-anchor="end" fill="#222">4250</text>
<line x1="385.40" x2="387.00" y1="307.40" y2="307.40" stroke="#444" stroke-width="0.5"/>
<text transform="translate(384.70,308.90) scale(0.91,1)" font-size="4.25" text-anchor="end" fill="#222">4500</text>
<line x1="393.15" x2="393.15" y1="322.2" y2="342.5" stroke="#f0393a" stroke-width="0.8"/>
<line x1="393.15" x2="393.15" y1="357.6" y2="369.5" stroke="#f0393a" stroke-width="0.8"/>
<rect x="389.05" y="342.5" width="8.20" height="15.10" fill="#fbfbfb" fill-opacity="0.85" stroke="#f0393a" stroke-width="0.8"/>
<line x1="389.05" x2="397.25" y1="355.0" y2="355.0" stroke="#f0393a" stroke-width="1.4"/>
<circle cx="393.15" cy="330.0" r="1.15" fill="#f0393a"/>
<circle cx="393.15" cy="359.8" r="1.15" fill="#f0393a"/>
<line x1="404.10" x2="404.10" y1="290.5" y2="305.4" stroke="#2f7fc1" stroke-width="0.8"/>
<line x1="404.10" x2="404.10" y1="379.3" y2="455.5" stroke="#2f7fc1" stroke-width="0.8"/>
<rect x="400.00" y="305.4" width="8.20" height="73.90" fill="#fbfbfb" fill-opacity="0.85" stroke="#2f7fc1" stroke-width="0.8"/>
<line x1="400.00" x2="408.20" y1="313.6" y2="313.6" stroke="#2f7fc1" stroke-width="1.4"/>
<circle cx="404.10" cy="297.0" r="1.15" fill="#2f7fc1"/>
<circle cx="404.10" cy="445.5" r="1.15" fill="#2f7fc1"/>
<path d="M393.45,286.8 V282.4 H404.40 V286.8" fill="none" stroke="#222" stroke-width="0.7"/>
<text x="398.93" y="280.8" font-size="4.6" text-anchor="middle" fill="#222" >0.7</text>
<line x1="393.15" x2="393.15" y1="463.4" y2="464.9" stroke="#444" stroke-width="0.5"/>
<text transform="translate(394.65,465.7) rotate(-90)" font-size="4.3" text-anchor="end" fill="#333">NMH</text>
<line x1="404.10" x2="404.10" y1="463.4" y2="464.9" stroke="#444" stroke-width="0.5"/>
<text transform="translate(405.60,465.7) rotate(-90)" font-size="4.3" text-anchor="end" fill="#333">OMH</text>
<rect x="423.90" y="266.20" width="23.60" height="7.00" fill="#d9d9d9" />
<text x="435.70" y="271.2" font-size="3.95" text-anchor="middle" fill="#1a1a1a" >ACE</text>
<rect x="423.90" y="273.20" width="23.60" height="190.20" fill="#ebebeb" />
<line x1="423.90" x2="447.50" y1="425.05" y2="425.05" stroke="#f7f7f7" stroke-width="0.35"/>
<line x1="423.90" x2="447.50" y1="383.35" y2="383.35" stroke="#f7f7f7" stroke-width="0.35"/>
<line x1="423.90" x2="447.50" y1="341.65" y2="341.65" stroke="#f7f7f7" stroke-width="0.35"/>
<line x1="423.90" x2="447.50" y1="299.95" y2="299.95" stroke="#f7f7f7" stroke-width="0.35"/>
<line x1="423.90" x2="447.50" y1="445.90" y2="445.90" stroke="#ffffff" stroke-width="0.7"/>
<line x1="423.90" x2="447.50" y1="404.20" y2="404.20" stroke="#ffffff" stroke-width="0.7"/>
<line x1="423.90" x2="447.50" y1="362.40" y2="362.40" stroke="#ffffff" stroke-width="0.7"/>
<line x1="423.90" x2="447.50" y1="320.70" y2="320.70" stroke="#ffffff" stroke-width="0.7"/>
<line x1="423.90" x2="447.50" y1="279.00" y2="279.00" stroke="#ffffff" stroke-width="0.7"/>
<line x1="430.05" x2="430.05" y1="273.2" y2="463.4" stroke="#ffffff" stroke-width="0.7"/>
<line x1="441.00" x2="441.00" y1="273.2" y2="463.4" stroke="#ffffff" stroke-width="0.7"/>
<line x1="422.30" x2="423.90" y1="445.90" y2="445.90" stroke="#444" stroke-width="0.5"/>
<text transform="translate(421.60,447.40) scale(0.91,1)" font-size="4.25" text-anchor="end" fill="#222">3800</text>
<line x1="422.30" x2="423.90" y1="404.20" y2="404.20" stroke="#444" stroke-width="0.5"/>
<text transform="translate(421.60,405.70) scale(0.91,1)" font-size="4.25" text-anchor="end" fill="#222">4000</text>
<line x1="422.30" x2="423.90" y1="362.40" y2="362.40" stroke="#444" stroke-width="0.5"/>
<text transform="translate(421.60,363.90) scale(0.91,1)" font-size="4.25" text-anchor="end" fill="#222">4200</text>
<line x1="422.30" x2="423.90" y1="320.70" y2="320.70" stroke="#444" stroke-width="0.5"/>
<text transform="translate(421.60,322.20) scale(0.91,1)" font-size="4.25" text-anchor="end" fill="#222">4400</text>
<line x1="422.30" x2="423.90" y1="279.00" y2="279.00" stroke="#444" stroke-width="0.5"/>
<text transform="translate(421.60,280.50) scale(0.91,1)" font-size="4.25" text-anchor="end" fill="#222">4600</text>
<line x1="430.05" x2="430.05" y1="318.1" y2="339.7" stroke="#f0393a" stroke-width="0.8"/>
<line x1="430.05" x2="430.05" y1="360.3" y2="371.9" stroke="#f0393a" stroke-width="0.8"/>
<rect x="425.95" y="339.7" width="8.20" height="20.60" fill="#fbfbfb" fill-opacity="0.85" stroke="#f0393a" stroke-width="0.8"/>
<line x1="425.95" x2="434.15" y1="354.8" y2="354.8" stroke="#f0393a" stroke-width="1.4"/>
<circle cx="430.05" cy="324.5" r="1.15" fill="#f0393a"/>
<circle cx="430.05" cy="364.9" r="1.15" fill="#f0393a"/>
<line x1="441.00" x2="441.00" y1="290.5" y2="305.4" stroke="#2f7fc1" stroke-width="0.8"/>
<line x1="441.00" x2="441.00" y1="381.6" y2="455.5" stroke="#2f7fc1" stroke-width="0.8"/>
<rect x="436.90" y="305.4" width="8.20" height="76.20" fill="#fbfbfb" fill-opacity="0.85" stroke="#2f7fc1" stroke-width="0.8"/>
<line x1="436.90" x2="445.10" y1="314.4" y2="314.4" stroke="#2f7fc1" stroke-width="1.4"/>
<circle cx="441.00" cy="297.0" r="1.15" fill="#2f7fc1"/>
<circle cx="441.00" cy="448.8" r="1.15" fill="#2f7fc1"/>
<path d="M430.35,286.8 V282.4 H441.30 V286.8" fill="none" stroke="#222" stroke-width="0.7"/>
<text x="435.82" y="280.8" font-size="4.6" text-anchor="middle" fill="#222" >0.7</text>
<line x1="430.05" x2="430.05" y1="463.4" y2="464.9" stroke="#444" stroke-width="0.5"/>
<text transform="translate(431.55,465.7) rotate(-90)" font-size="4.3" text-anchor="end" fill="#333">NMH</text>
<line x1="441.00" x2="441.00" y1="463.4" y2="464.9" stroke="#444" stroke-width="0.5"/>
<text transform="translate(442.50,465.7) rotate(-90)" font-size="4.3" text-anchor="end" fill="#333">OMH</text>
<rect x="459.20" y="266.20" width="23.60" height="7.00" fill="#d9d9d9" />
<text x="471.00" y="271.2" font-size="3.95" text-anchor="middle" fill="#1a1a1a" >Shannon</text>
<rect x="459.20" y="273.20" width="23.60" height="190.20" fill="#ebebeb" />
<line x1="459.20" x2="482.80" y1="423.00" y2="423.00" stroke="#f7f7f7" stroke-width="0.35"/>
<line x1="459.20" x2="482.80" y1="378.00" y2="378.00" stroke="#f7f7f7" stroke-width="0.35"/>
<line x1="459.20" x2="482.80" y1="333.00" y2="333.00" stroke="#f7f7f7" stroke-width="0.35"/>
<line x1="459.20" x2="482.80" y1="288.00" y2="288.00" stroke="#f7f7f7" stroke-width="0.35"/>
<line x1="459.20" x2="482.80" y1="445.50" y2="445.50" stroke="#ffffff" stroke-width="0.7"/>
<line x1="459.20" x2="482.80" y1="400.50" y2="400.50" stroke="#ffffff" stroke-width="0.7"/>
<line x1="459.20" x2="482.80" y1="355.00" y2="355.00" stroke="#ffffff" stroke-width="0.7"/>
<line x1="459.20" x2="482.80" y1="309.60" y2="309.60" stroke="#ffffff" stroke-width="0.7"/>
<line x1="465.35" x2="465.35" y1="273.2" y2="463.4" stroke="#ffffff" stroke-width="0.7"/>
<line x1="476.30" x2="476.30" y1="273.2" y2="463.4" stroke="#ffffff" stroke-width="0.7"/>
<line x1="457.60" x2="459.20" y1="445.50" y2="445.50" stroke="#444" stroke-width="0.5"/>
<text transform="translate(456.90,447.00) scale(0.91,1)" font-size="4.25" text-anchor="end" fill="#222">4.00</text>
<line x1="457.60" x2="459.20" y1="400.50" y2="400.50" stroke="#444" stroke-width="0.5"/>
<text transform="translate(456.90,402.00) scale(0.91,1)" font-size="4.25" text-anchor="end" fill="#222">4.25</text>
<line x1="457.60" x2="459.20" y1="355.00" y2="355.00" stroke="#444" stroke-width="0.5"/>
<text transform="translate(456.90,356.50) scale(0.91,1)" font-size="4.25" text-anchor="end" fill="#222">4.50</text>
<line x1="457.60" x2="459.20" y1="309.60" y2="309.60" stroke="#444" stroke-width="0.5"/>
<text transform="translate(456.90,311.10) scale(0.91,1)" font-size="4.25" text-anchor="end" fill="#222">4.75</text>
<line x1="465.35" x2="465.35" y1="290.2" y2="318.6" stroke="#f0393a" stroke-width="0.8"/>
<line x1="465.35" x2="465.35" y1="373.2" y2="400.5" stroke="#f0393a" stroke-width="0.8"/>
<rect x="461.25" y="318.6" width="8.20" height="54.60" fill="#fbfbfb" fill-opacity="0.85" stroke="#f0393a" stroke-width="0.8"/>
<line x1="461.25" x2="469.45" y1="346.3" y2="346.3" stroke="#f0393a" stroke-width="1.4"/>
<circle cx="465.35" cy="290.2" r="1.15" fill="#f0393a"/>
<circle cx="465.35" cy="400.5" r="1.15" fill="#f0393a"/>
<line x1="476.30" x2="476.30" y1="299.8" y2="300.8" stroke="#2f7fc1" stroke-width="0.8"/>
<line x1="476.30" x2="476.30" y1="378.5" y2="455.4" stroke="#2f7fc1" stroke-width="0.8"/>
<rect x="472.20" y="300.8" width="8.20" height="77.70" fill="#fbfbfb" fill-opacity="0.85" stroke="#2f7fc1" stroke-width="0.8"/>
<line x1="472.20" x2="480.40" y1="301.2" y2="301.2" stroke="#2f7fc1" stroke-width="1.4"/>
<circle cx="476.30" cy="299.8" r="1.15" fill="#2f7fc1"/>
<circle cx="476.30" cy="455.4" r="1.15" fill="#2f7fc1"/>
<path d="M465.65,286.8 V282.4 H476.60 V286.8" fill="none" stroke="#222" stroke-width="0.7"/>
<text x="471.12" y="280.8" font-size="4.6" text-anchor="middle" fill="#222" >1</text>
<line x1="465.35" x2="465.35" y1="463.4" y2="464.9" stroke="#444" stroke-width="0.5"/>
<text transform="translate(466.85,465.7) rotate(-90)" font-size="4.3" text-anchor="end" fill="#333">NMH</text>
<line x1="476.30" x2="476.30" y1="463.4" y2="464.9" stroke="#444" stroke-width="0.5"/>
<text transform="translate(477.80,465.7) rotate(-90)" font-size="4.3" text-anchor="end" fill="#333">OMH</text>
<rect x="496.70" y="266.20" width="23.60" height="7.00" fill="#d9d9d9" />
<text x="508.50" y="271.2" font-size="3.95" text-anchor="middle" fill="#1a1a1a" >Simpson</text>
<rect x="496.70" y="273.20" width="23.60" height="190.20" fill="#ebebeb" />
<line x1="496.70" x2="520.30" y1="437.55" y2="437.55" stroke="#f7f7f7" stroke-width="0.35"/>
<line x1="496.70" x2="520.30" y1="387.05" y2="387.05" stroke="#f7f7f7" stroke-width="0.35"/>
<line x1="496.70" x2="520.30" y1="336.55" y2="336.55" stroke="#f7f7f7" stroke-width="0.35"/>
<line x1="496.70" x2="520.30" y1="286.05" y2="286.05" stroke="#f7f7f7" stroke-width="0.35"/>
<line x1="496.70" x2="520.30" y1="462.80" y2="462.80" stroke="#ffffff" stroke-width="0.7"/>
<line x1="496.70" x2="520.30" y1="412.30" y2="412.30" stroke="#ffffff" stroke-width="0.7"/>
<line x1="496.70" x2="520.30" y1="362.00" y2="362.00" stroke="#ffffff" stroke-width="0.7"/>
<line x1="496.70" x2="520.30" y1="311.60" y2="311.60" stroke="#ffffff" stroke-width="0.7"/>
<line x1="502.85" x2="502.85" y1="273.2" y2="463.4" stroke="#ffffff" stroke-width="0.7"/>
<line x1="513.80" x2="513.80" y1="273.2" y2="463.4" stroke="#ffffff" stroke-width="0.7"/>
<line x1="495.10" x2="496.70" y1="462.80" y2="462.80" stroke="#444" stroke-width="0.5"/>
<text transform="translate(494.40,464.30) scale(0.91,1)" font-size="4.25" text-anchor="end" fill="#222">0.900</text>
<line x1="495.10" x2="496.70" y1="412.30" y2="412.30" stroke="#444" stroke-width="0.5"/>
<text transform="translate(494.40,413.80) scale(0.91,1)" font-size="4.25" text-anchor="end" fill="#222">0.925</text>
<line x1="495.10" x2="496.70" y1="362.00" y2="362.00" stroke="#444" stroke-width="0.5"/>
<text transform="translate(494.40,363.50) scale(0.91,1)" font-size="4.25" text-anchor="end" fill="#222">0.950</text>
<line x1="495.10" x2="496.70" y1="311.60" y2="311.60" stroke="#444" stroke-width="0.5"/>
<text transform="translate(494.40,313.10) scale(0.91,1)" font-size="4.25" text-anchor="end" fill="#222">0.975</text>
<line x1="502.85" x2="502.85" y1="290.2" y2="303.5" stroke="#f0393a" stroke-width="0.8"/>
<line x1="502.85" x2="502.85" y1="331.8" y2="346.7" stroke="#f0393a" stroke-width="0.8"/>
<rect x="498.75" y="303.5" width="8.20" height="28.30" fill="#fbfbfb" fill-opacity="0.85" stroke="#f0393a" stroke-width="0.8"/>
<line x1="498.75" x2="506.95" y1="316.8" y2="316.8" stroke="#f0393a" stroke-width="1.4"/>
<circle cx="502.85" cy="290.2" r="1.15" fill="#f0393a"/>
<circle cx="502.85" cy="346.7" r="1.15" fill="#f0393a"/>
<line x1="513.80" x2="513.80" y1="296.3" y2="296.8" stroke="#2f7fc1" stroke-width="0.8"/>
<line x1="513.80" x2="513.80" y1="376.3" y2="455.4" stroke="#2f7fc1" stroke-width="0.8"/>
<rect x="509.70" y="296.8" width="8.20" height="79.50" fill="#fbfbfb" fill-opacity="0.85" stroke="#2f7fc1" stroke-width="0.8"/>
<line x1="509.70" x2="517.90" y1="297.2" y2="297.2" stroke="#2f7fc1" stroke-width="1.4"/>
<circle cx="513.80" cy="296.3" r="1.15" fill="#2f7fc1"/>
<circle cx="513.80" cy="455.4" r="1.15" fill="#2f7fc1"/>
<path d="M503.15,286.8 V282.4 H514.10 V286.8" fill="none" stroke="#222" stroke-width="0.7"/>
<text x="508.62" y="280.8" font-size="4.6" text-anchor="middle" fill="#222" >1</text>
<line x1="502.85" x2="502.85" y1="463.4" y2="464.9" stroke="#444" stroke-width="0.5"/>
<text transform="translate(504.35,465.7) rotate(-90)" font-size="4.3" text-anchor="end" fill="#333">NMH</text>
<line x1="513.80" x2="513.80" y1="463.4" y2="464.9" stroke="#444" stroke-width="0.5"/>
<text transform="translate(515.30,465.7) rotate(-90)" font-size="4.3" text-anchor="end" fill="#333">OMH</text>
<text transform="translate(337.3,368.6) rotate(-90)" font-size="4.78" text-anchor="middle" fill="#1a1a1a">Alpha Diversity Measure</text>
<text x="435.3" y="479.8" font-size="4.8" text-anchor="middle" fill="#1a1a1a" >this_type</text>
<rect x="528.3" y="363.90" width="5.5" height="4.6" fill="#f2f2f2"/>
<line x1="531.05" x2="531.05" y1="363.90" y2="368.50" stroke="#f0393a" stroke-width="0.7"/>
<rect x="528.9" y="364.60" width="4.3" height="3.2" fill="#fbfbfb" stroke="#f0393a" stroke-width="0.7"/>
<line x1="528.9" x2="533.2" y1="366.20" y2="366.20" stroke="#f0393a" stroke-width="0.9"/>
<text x="537.1" y="367.70" font-size="4.0" text-anchor="start" fill="#1a1a1a" >NMH</text>
<rect x="528.3" y="371.20" width="5.5" height="4.6" fill="#f2f2f2"/>
<line x1="531.05" x2="531.05" y1="371.20" y2="375.80" stroke="#2f7fc1" stroke-width="0.7"/>
<rect x="528.9" y="371.90" width="4.3" height="3.2" fill="#fbfbfb" stroke="#2f7fc1" stroke-width="0.7"/>
<line x1="528.9" x2="533.2" y1="373.50" y2="373.50" stroke="#2f7fc1" stroke-width="0.9"/>
<text x="537.1" y="375.00" font-size="4.0" text-anchor="start" fill="#1a1a1a" >OMH</text>
</svg>
</body></html>
